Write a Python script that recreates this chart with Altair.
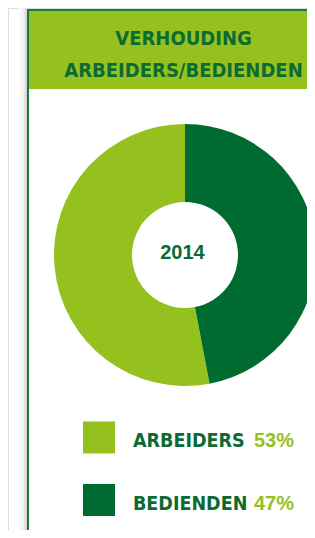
import altair as alt
import pandas as pd

# ---- data ----
categories = ["ARBEIDERS", "BEDIENDEN"]
values = [53, 47]
slice_order = [2, 1]          # BEDIENDEN drawn first from 12 o'clock
year_label = "2014"
title_lines = ["VERHOUDING", "ARBEIDERS/BEDIENDEN"]

LIGHT = "#95C11F"
DARK = "#006B31"
TEXT_DARK = "#0B6B33"
BORDER = "#177A3E"

df = pd.DataFrame({
    "cat": categories,
    "value": values,
    "ord": slice_order,
    "idx": list(range(len(categories))),
    "pct": [f"{v}%" for v in values],
})

W, H = 299, 522
NARROW = "DejaVu Sans Condensed, Liberation Sans Narrow, sans-serif"
BOLD = "Liberation Sans, Arial, sans-serif"

one = pd.DataFrame({"k": [0]})

# shadow left of box
shadow = alt.Chart(one).mark_rect(
    fill={"gradient": "linear", "x1": 0, "y1": 0, "x2": 1, "y2": 0,
          "stops": [{"offset": 0, "color": "#ffffff"},
                    {"offset": 0.6, "color": "#f2f2f2"},
                    {"offset": 1, "color": "#cfcfcf"}]},
    strokeWidth=0
).encode(x=alt.value(10), x2=alt.value(19), y=alt.value(0), y2=alt.value(H))

# box with border
box = alt.Chart(one).mark_rect(fill="white", stroke=BORDER, strokeWidth=2).encode(
    x=alt.value(20), x2=alt.value(W + 20), y=alt.value(2), y2=alt.value(H + 20)
)

header = alt.Chart(one).mark_rect(fill=LIGHT, strokeWidth=0).encode(
    x=alt.value(21), x2=alt.value(W + 20), y=alt.value(3), y2=alt.value(81)
)

title = alt.Chart(one).mark_text(
    text=title_lines, font=NARROW, fontWeight="bold", fontSize=20,
    color=TEXT_DARK, align="center", baseline="alphabetic", lineHeight=32
).encode(x=alt.value(175.5), y=alt.value(37))

donut = alt.Chart(df).mark_arc(innerRadius=53, outerRadius=131).encode(
    theta=alt.Theta("value:Q", stack=True),
    order=alt.Order("ord:Q"),
    color=alt.Color("cat:N", scale=alt.Scale(domain=categories, range=[LIGHT, DARK]), legend=None),
    x=alt.value(177), y=alt.value(247),
)

year = alt.Chart(one).mark_text(
    text=year_label, font=BOLD, fontWeight="bold", fontSize=20,
    color=TEXT_DARK, align="center", baseline="alphabetic"
).encode(x=alt.value(174.5), y=alt.value(251))

yscale = alt.Scale(domain=[0, 1], range=[429.5, 492])

leg_sq = alt.Chart(df).mark_square(size=1024, opacity=1).encode(
    x=alt.value(91),
    y=alt.Y("idx:Q", scale=yscale, axis=None),
    color=alt.Color("cat:N", scale=alt.Scale(domain=categories, range=[LIGHT, DARK]), legend=None),
)

leg_lab = alt.Chart(df).mark_text(
    font=NARROW, fontWeight="bold", fontSize=19.5, color=TEXT_DARK,
    align="left", baseline="alphabetic", dy=9.5
).encode(x=alt.value(125), y=alt.Y("idx:Q", scale=yscale, axis=None), text="cat:N")

leg_pct = alt.Chart(df).mark_text(
    font=BOLD, fontWeight="bold", fontSize=20, color=LIGHT,
    align="left", baseline="alphabetic", dy=9.5
).encode(x=alt.value(246), y=alt.Y("idx:Q", scale=yscale, axis=None), text="pct:N")

chart = alt.layer(shadow, box, header, title, donut, year, leg_sq, leg_lab, leg_pct).properties(
    width=W, height=H, autosize=alt.AutoSizeParams(type="none"), padding=0
).configure_view(stroke=None).configure(background="white")

chart.save("out.html", embed_options={"renderer": "svg", "actions": False})
